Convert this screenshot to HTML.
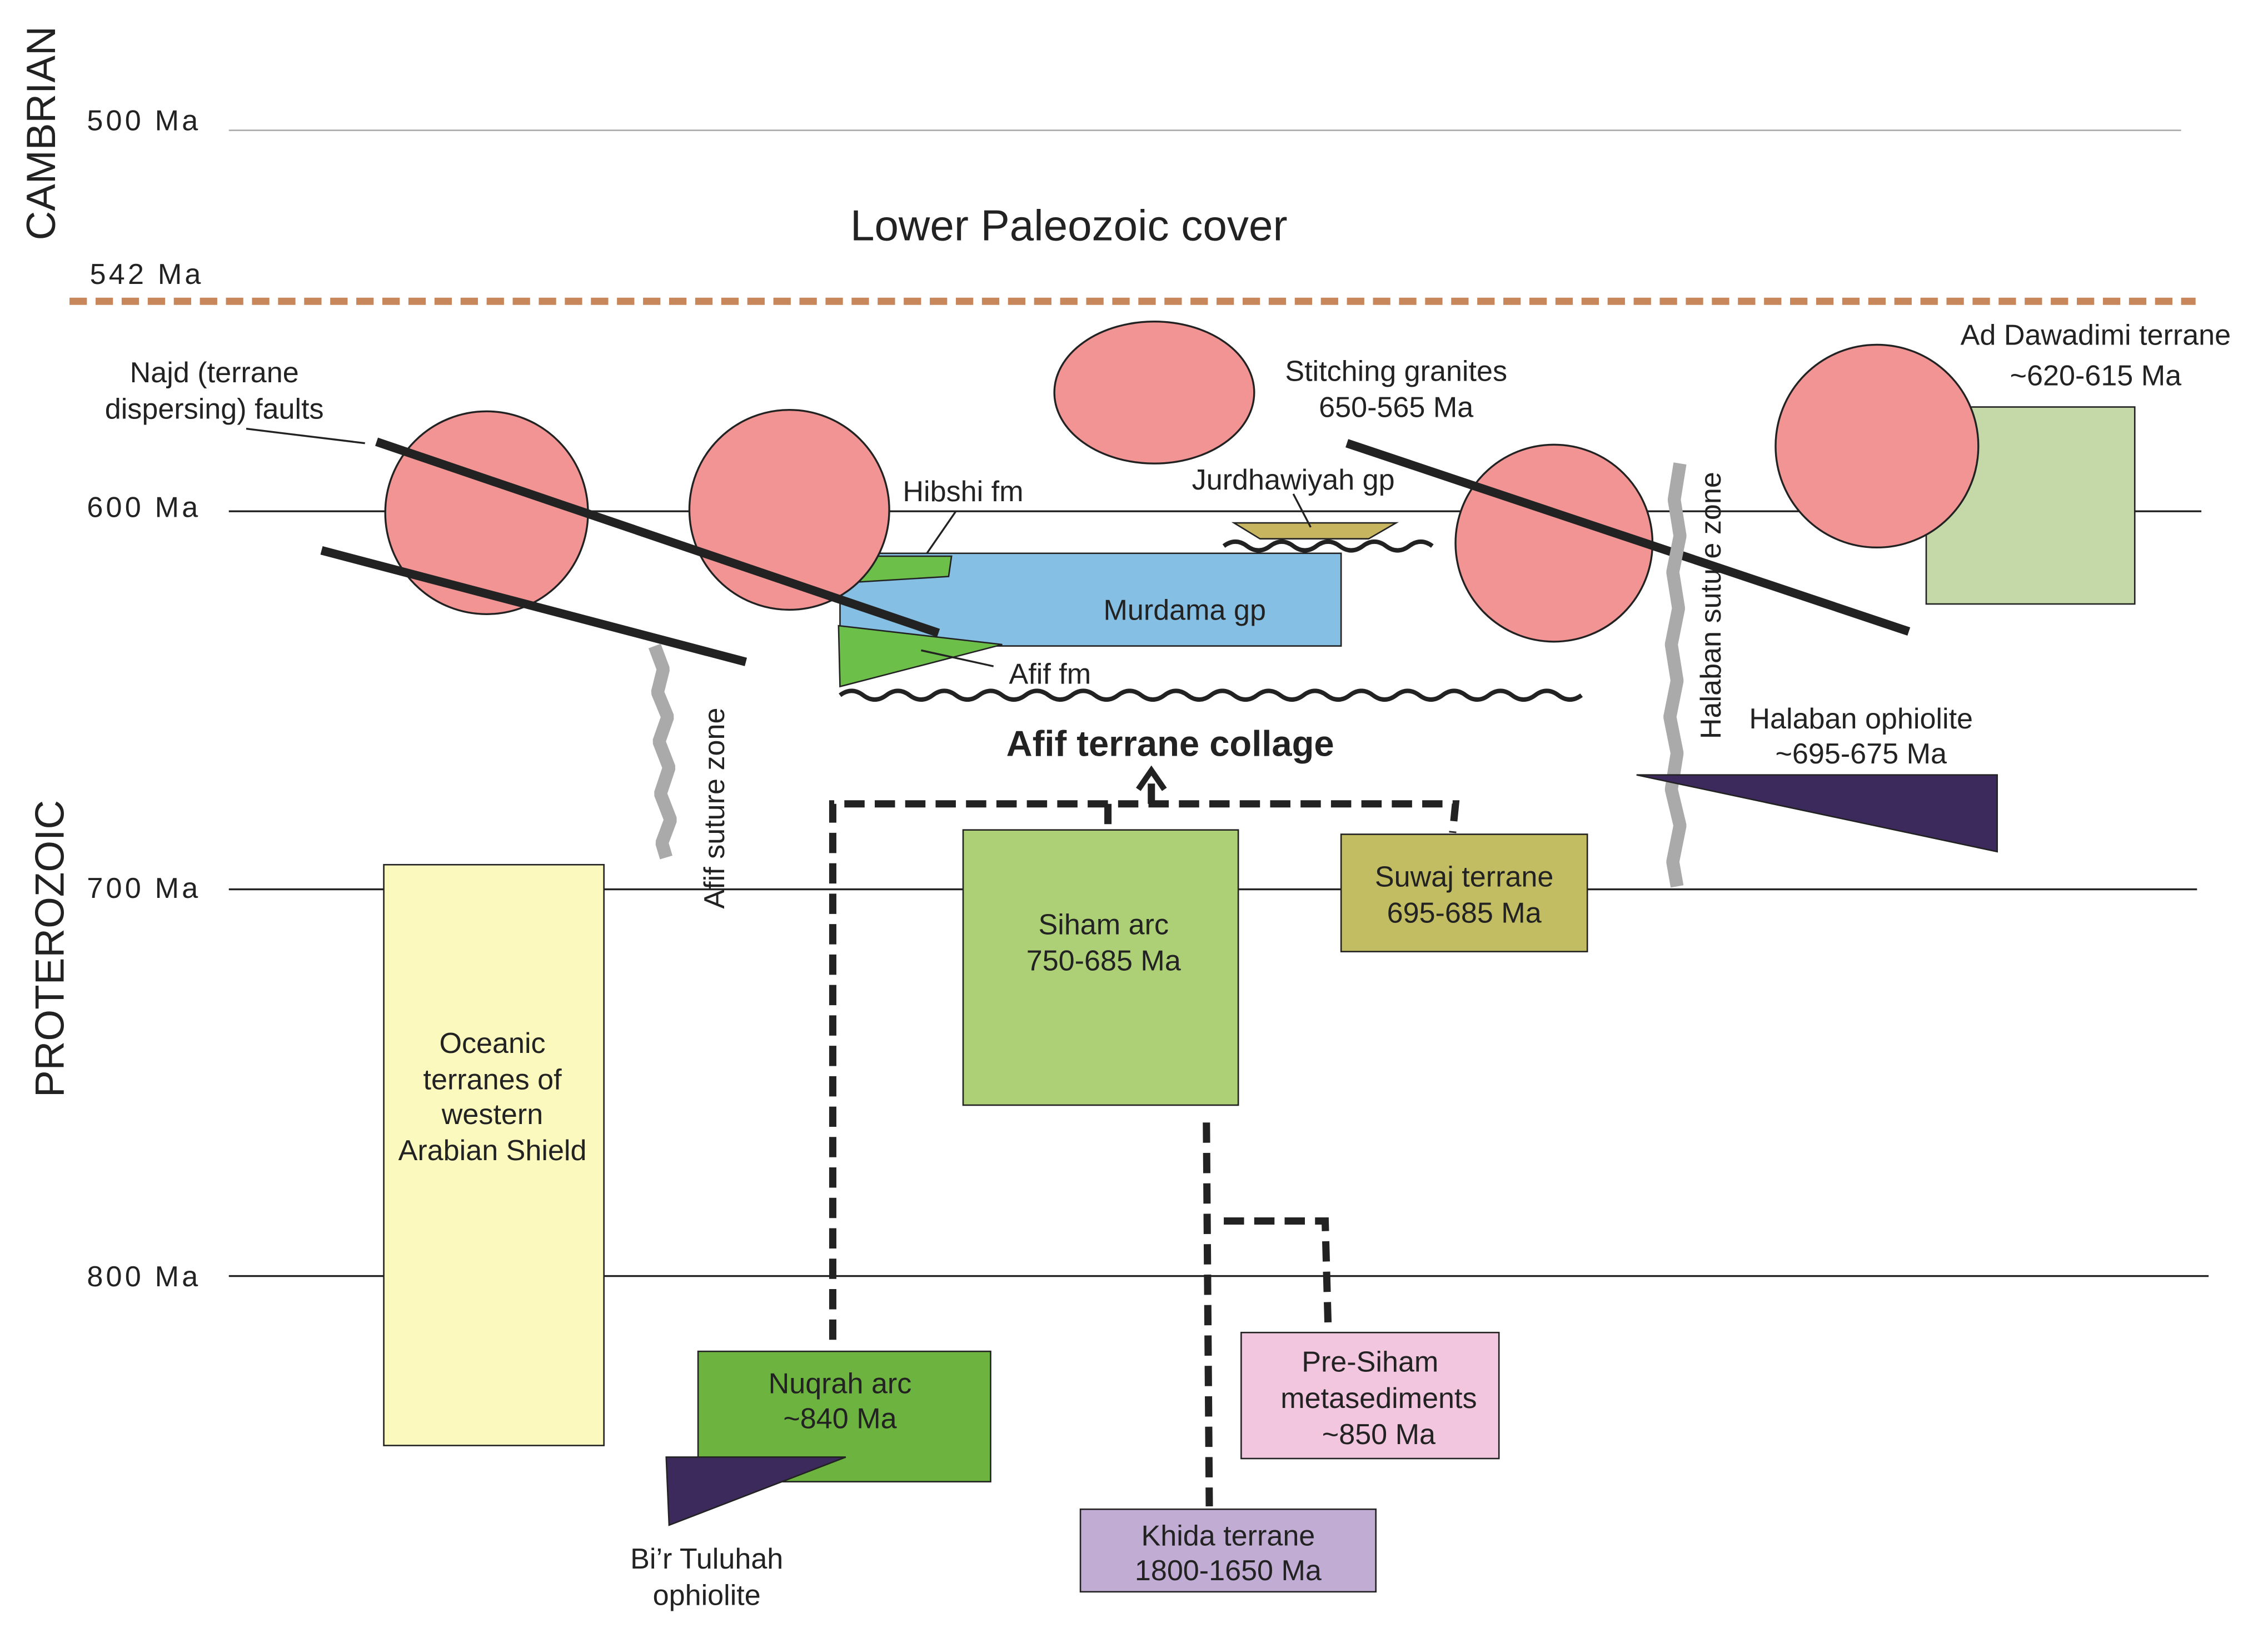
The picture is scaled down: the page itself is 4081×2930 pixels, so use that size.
<!DOCTYPE html>
<html><head><meta charset="utf-8"><style>
html,body{margin:0;padding:0;background:#fff;}
svg{display:block;}
text{font-family:"Liberation Sans",sans-serif;fill:#222;}
</style></head><body>
<svg width="4081" height="2930" viewBox="0 0 1566 1124" preserveAspectRatio="none" xmlns="http://www.w3.org/2000/svg">
<rect width="1566" height="1124" fill="#fff"/>
<text transform="translate(38,92) rotate(-90)" font-size="28" text-anchor="middle">CAMBRIAN</text>
<text transform="translate(44,655) rotate(-90)" font-size="28" text-anchor="middle">PROTEROZOIC</text>
<text x="60" y="90" font-size="20" letter-spacing="2">500 Ma</text>
<line x1="158" y1="90" x2="1506" y2="90" stroke="#aaa" stroke-width="1"/>
<text x="738" y="166" font-size="30" text-anchor="middle">Lower Paleozoic cover</text>
<text x="62" y="196" font-size="20" letter-spacing="2">542 Ma</text>
<line x1="48" y1="208" x2="1516" y2="208" stroke="#c8875a" stroke-width="5" stroke-dasharray="12 6"/>
<text x="60" y="357" font-size="20" letter-spacing="2">600 Ma</text>
<line x1="158" y1="353" x2="1520" y2="353" stroke="#222" stroke-width="1.3"/>
<text x="60" y="620" font-size="20" letter-spacing="2">700 Ma</text>
<line x1="158" y1="614" x2="1517" y2="614" stroke="#222" stroke-width="1.3"/>
<text x="60" y="888" font-size="20" letter-spacing="2">800 Ma</text>
<line x1="158" y1="881" x2="1525" y2="881" stroke="#222" stroke-width="1.3"/>

<rect x="1330" y="281" width="144" height="136" fill="#c5d8a8" stroke="#222"/>
<rect x="580" y="382" width="346" height="64" fill="#85bfe3" stroke="#222"/>
<text x="818" y="428" font-size="20" text-anchor="middle">Murdama gp</text>
<polygon points="590,384 657,384 655,398 590,402" fill="#6cc04a" stroke="#222"/>
<polygon points="579,432 692,445 580,474" fill="#6cc04a" stroke="#222"/>
<polygon points="852,361 964,361 945,372 870,372" fill="#c8b560" stroke="#222"/>

<g fill="#f29494" stroke="#222" stroke-width="1.3">
<circle cx="336" cy="354" r="70"/>
<circle cx="545" cy="352" r="69"/>
<ellipse cx="797" cy="271" rx="69" ry="49"/>
<circle cx="1073" cy="375" r="68"/>
<circle cx="1296" cy="308" r="70"/>
</g>

<g stroke="#222" stroke-width="6">
<line x1="260" y1="305" x2="648" y2="437"/>
<line x1="222" y1="380" x2="515" y2="457"/>
<line x1="930" y1="306" x2="1318" y2="436"/>
</g>
<line x1="170" y1="296" x2="252" y2="306" stroke="#222" stroke-width="1.3"/>
<line x1="660" y1="353" x2="640" y2="382" stroke="#222" stroke-width="1.3"/>
<line x1="636" y1="449" x2="686" y2="460" stroke="#222" stroke-width="1.3"/>
<line x1="893" y1="341" x2="905" y2="364" stroke="#222" stroke-width="1.3"/>

<path d="M845 377 q8 -6 16 0 t16 0 t16 0 t16 0 t16 0 t16 0 t16 0 t16 0 t16 0" fill="none" stroke="#222" stroke-width="3"/>
<path d="M580 480 q8 -6 16 0 t16 0 t16 0 t16 0 t16 0 t16 0 t16 0 t16 0 t16 0 t16 0 t16 0 t16 0 t16 0 t16 0 t16 0 t16 0 t16 0 t16 0 t16 0 t16 0 t16 0 t16 0 t16 0 t16 0 t16 0 t16 0 t16 0 t16 0 t16 0 t16 0 t16 0 t16 0" fill="none" stroke="#222" stroke-width="3"/>

<polyline points="452,446 458,462 454,478 461,495 455,512 462,530 456,548 463,566 457,582 460,592" fill="none" stroke="#aaa" stroke-width="9" stroke-linejoin="bevel"/>
<polyline points="1160,320 1156,345 1160,370 1155,395 1159,420 1154,445 1158,470 1153,495 1158,520 1154,545 1160,570 1155,595 1158,612" fill="none" stroke="#aaa" stroke-width="9" stroke-linejoin="bevel"/>
<text transform="translate(500,558) rotate(-90)" font-size="20" text-anchor="middle">Afif suture zone</text>
<text transform="translate(1188,418) rotate(-90)" font-size="20" text-anchor="middle">Halaban suture zone</text>

<polygon points="1130,535 1379,535 1379,588" fill="#3d2a5c" stroke="#222"/>

<g stroke="#222" stroke-width="5" stroke-dasharray="14 7" fill="none">
<polyline points="575,925 575,555 1005,555 1003,575"/>
<line x1="765" y1="555" x2="765" y2="572"/>
<line x1="795" y1="555" x2="795" y2="536"/>
<line x1="833" y1="775" x2="835" y2="1040"/>
<polyline points="845,843 915,843 917,915"/>
</g>
<polyline points="786,545 795,532 804,545" fill="none" stroke="#222" stroke-width="4"/>

<rect x="265" y="597" width="152" height="401" fill="#fbf9be" stroke="#222"/>
<rect x="665" y="573" width="190" height="190" fill="#add077" stroke="#222"/>
<rect x="926" y="576" width="170" height="81" fill="#c2bd62" stroke="#222"/>
<rect x="482" y="933" width="202" height="90" fill="#6db33f" stroke="#222"/>
<polygon points="460,1006 584,1006 462,1053" fill="#3d2a5c" stroke="#222"/>
<rect x="857" y="920" width="178" height="87" fill="#f2c6de" stroke="#222"/>
<rect x="746" y="1042" width="204" height="57" fill="#c1acd3" stroke="#222"/>

<g font-size="20" text-anchor="middle">
<text x="148" y="264">Najd (terrane</text>
<text x="148" y="289">dispersing) faults</text>
<text x="964" y="263">Stitching granites</text>
<text x="964" y="288">650-565 Ma</text>
<text x="1447" y="238">Ad Dawadimi terrane</text>
<text x="1447" y="266">~620-615 Ma</text>
<text x="665" y="346">Hibshi fm</text>
<text x="893" y="338">Jurdhawiyah gp</text>
<text x="725" y="472">Afif fm</text>
<text x="1285" y="503">Halaban ophiolite</text>
<text x="1285" y="527">~695-675 Ma</text>
<text x="340" y="727">Oceanic</text>
<text x="340" y="752">terranes of</text>
<text x="340" y="776">western</text>
<text x="340" y="801">Arabian Shield</text>
<text x="762" y="645">Siham arc</text>
<text x="762" y="670">750-685 Ma</text>
<text x="1011" y="612">Suwaj terrane</text>
<text x="1011" y="637">695-685 Ma</text>
<text x="580" y="962">Nuqrah arc</text>
<text x="580" y="986">~840 Ma</text>
<text x="488" y="1083">Bi’r Tuluhah</text>
<text x="488" y="1108">ophiolite</text>
<text x="946" y="947">Pre-Siham</text>
<text x="952" y="972">metasediments</text>
<text x="952" y="997">~850 Ma</text>
<text x="848" y="1067">Khida terrane</text>
<text x="848" y="1091">1800-1650 Ma</text>
</g>
<text x="808" y="522" font-size="25" font-weight="bold" text-anchor="middle">Afif terrane collage</text>
</svg>
</body></html>
